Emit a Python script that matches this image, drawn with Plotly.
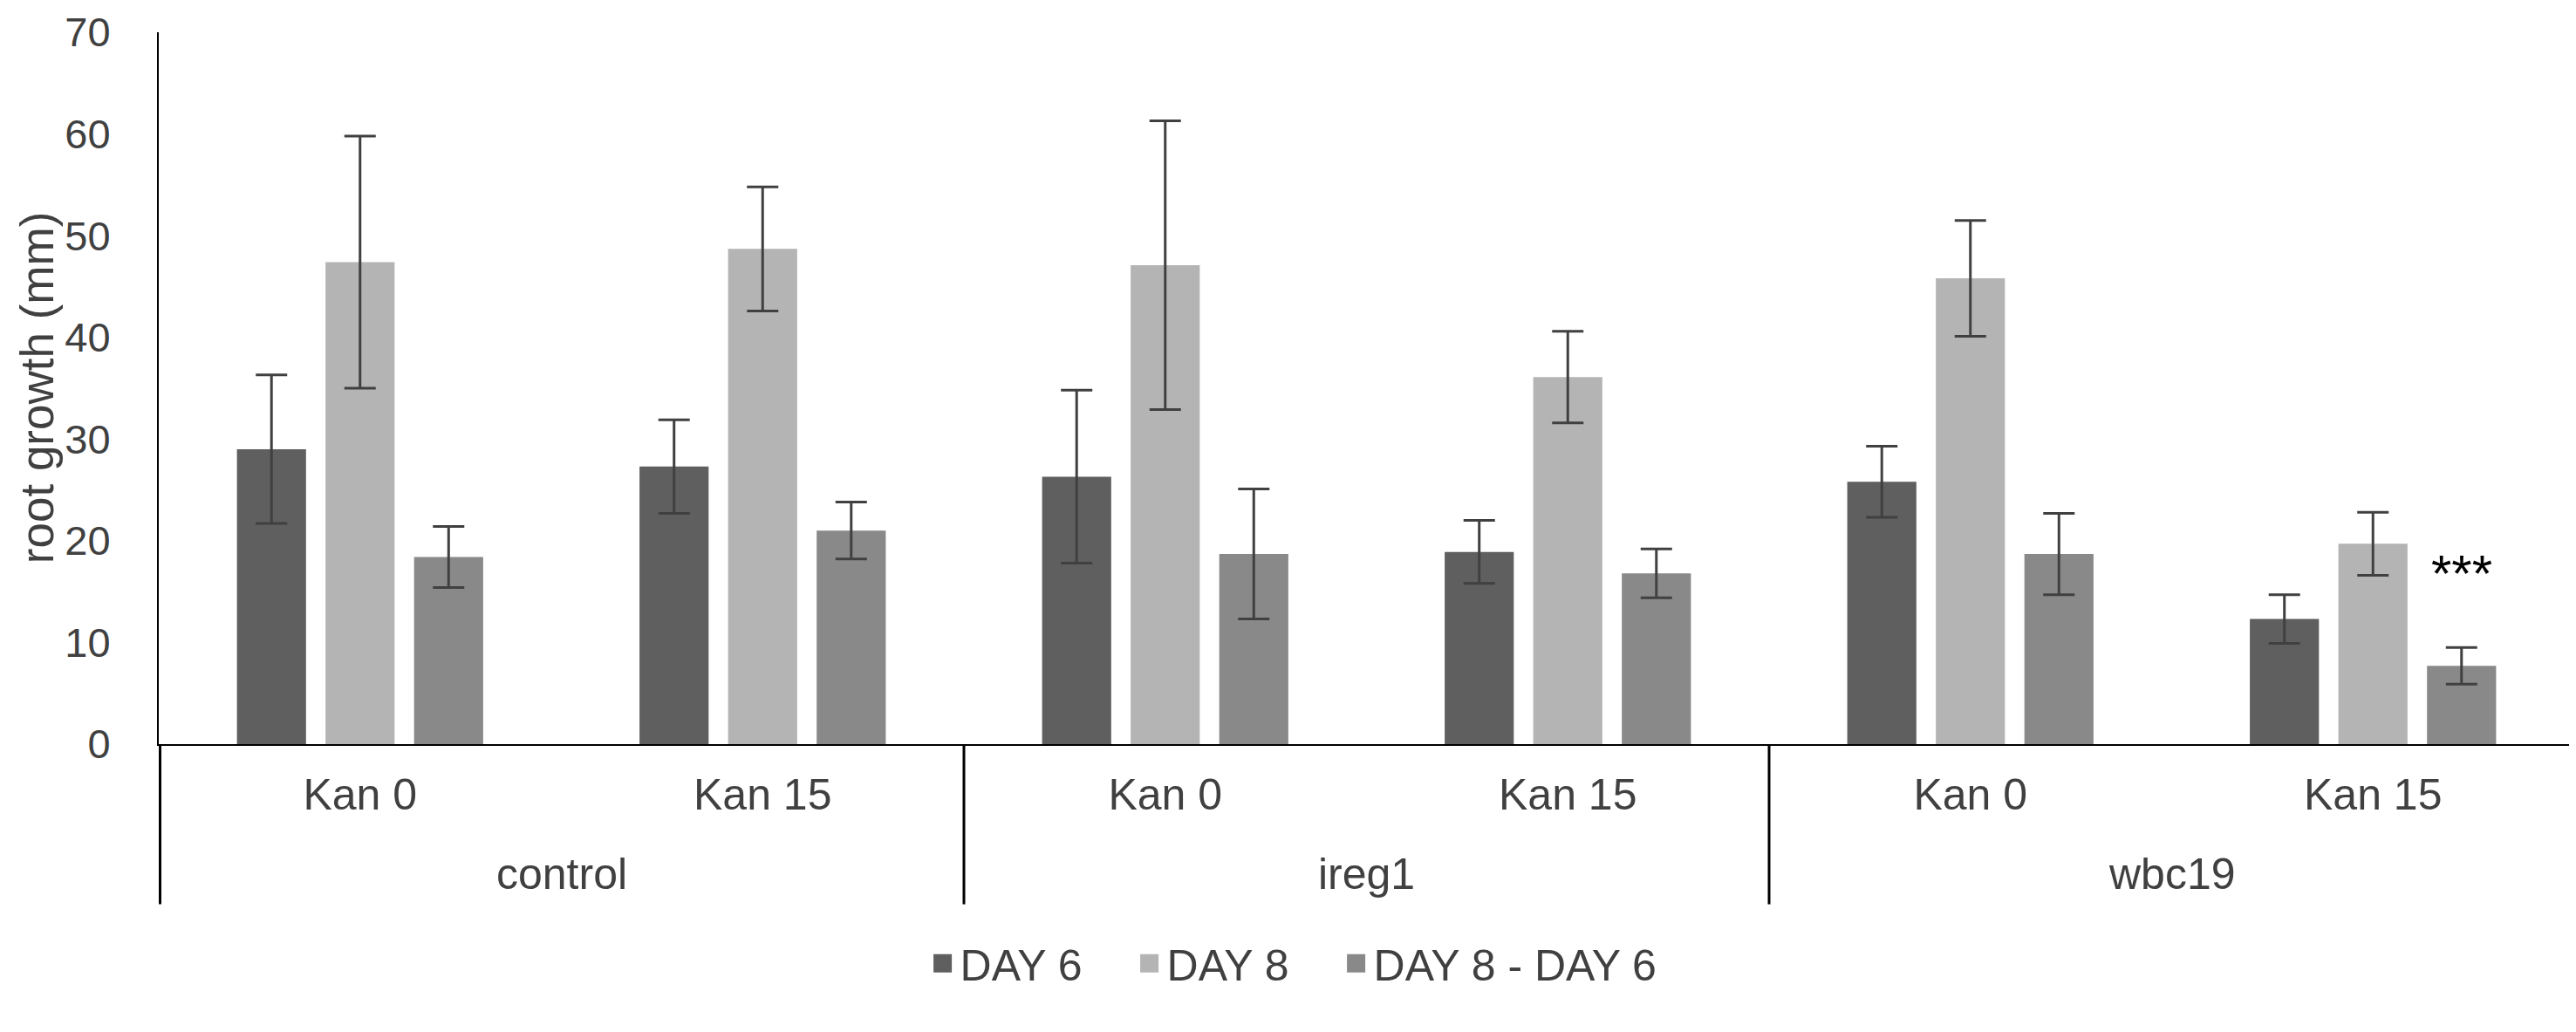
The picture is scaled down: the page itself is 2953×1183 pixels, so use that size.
import plotly.graph_objects as go

# x axis: genotype groups and kanamycin treatment
genotypes = ['control', 'control', 'ireg1', 'ireg1', 'wbc19', 'wbc19']
treatments = ['Kan 0', 'Kan 15', 'Kan 0', 'Kan 15', 'Kan 0', 'Kan 15']
group_names = ['control', 'ireg1', 'wbc19']

day6 = [29.0, 27.3, 26.3, 18.9, 25.8, 12.3]
day6_err = [7.3, 4.6, 8.5, 3.1, 3.5, 2.4]

day8 = [47.4, 48.7, 47.1, 36.1, 45.8, 19.7]
day8_err = [12.4, 6.1, 14.2, 4.5, 5.7, 3.1]

diff = [18.4, 21.0, 18.7, 16.8, 18.7, 7.7]
diff_err = [3.0, 2.8, 6.4, 2.4, 4.0, 1.8]

star_label = '***'
star_y = 16.8

y_title = 'root growth (mm)'

font_main = 'Liberation Sans, Arial, sans-serif'
text_color = '#404040'
err_color = '#404040'

# one unique category per bar cluster, labelled with the treatment only
x_keys = [g + ' | ' + t for g, t in zip(genotypes, treatments)]

series = [
    ('DAY 6', day6, day6_err, '#5f5f5f'),
    ('DAY 8', day8, day8_err, '#b4b4b4'),
    ('DAY 8 - DAY 6', diff, diff_err, '#898989'),
]

fig = go.Figure()

for name, vals, errs, col in series:
    fig.add_trace(
        go.Bar(
            name=name,
            x=x_keys,
            y=vals,
            showlegend=False,
            marker=dict(color=col, line=dict(width=0)),
            error_y=dict(type='data', array=errs, visible=True,
                         color=err_color, thickness=3, width=18)))

# legend entries with bigger square swatches
for k, (name, vals, errs, col) in enumerate(series):
    fig.add_trace(
        go.Scatter(
            name=name,
            x=[x_keys[0]], y=[None],
            mode='markers',
            showlegend=True,
            legendwidth=192 if k < 2 else None,
            marker=dict(symbol='square', size=16, color=col,
                        line=dict(color=col, width=5))))

# group labels under the treatment labels
for i, g in enumerate(group_names):
    fig.add_annotation(
        x=2 * i + 0.5, y=-0.183, xref='x', yref='paper',
        text=g, showarrow=False, yanchor='middle',
        font=dict(family=font_main, size=50, color=text_color))

# divider lines between the groups (outer ones get clipped by half)
n_div = len(group_names) + 1
for i in range(n_div):
    edge = i in (0, n_div - 1)
    fig.add_shape(type='line', xref='x', yref='paper',
                  x0=2 * i - 0.5, x1=2 * i - 0.5, y0=0, y1=-0.225,
                  line=dict(color='black', width=6 if edge else 3))

fig.add_annotation(
    x=5.22, y=star_y, xref='x', yref='y',
    text=star_label, showarrow=False,
    font=dict(family=font_main, size=60, color='black'))

# y axis title, placed a bit below the middle like in the original
fig.add_annotation(
    x=-0.0505, y=0.5, xref='paper', yref='paper',
    text=y_title, textangle=-90, showarrow=False,
    xanchor='center', yanchor='middle',
    font=dict(family=font_main, size=53, color=text_color))

# faint line at the bottom left of the original picture
fig.add_shape(type='line', xref='paper', yref='paper',
              x0=-0.045, x1=0.09, y0=-0.409, y1=-0.409,
              line=dict(color='#d6d6d6', width=4))

fig.update_layout(
    width=2953,
    height=1183,
    plot_bgcolor='white',
    paper_bgcolor='white',
    barmode='group',
    bargap=0.34,
    bargroupgap=0.22,
    margin=dict(l=174, r=10, t=29, b=338),
    font=dict(family=font_main, color=text_color),
    # legend is centred on the whole picture, not on the plot area
    legend=dict(orientation='h', x=0.4697, xanchor='center',
                y=-0.308, yanchor='middle',
                font=dict(size=50, color=text_color),
                itemsizing='trace', traceorder='normal'),
    xaxis=dict(
        type='category',
        range=[-0.5, 5.5],
        tickvals=x_keys, ticktext=treatments,
        automargin=False,
        showline=True, linecolor='black', linewidth=2,
        showgrid=False, ticks='',
        ticklabelstandoff=13,
        tickfont=dict(size=50, color=text_color)),
    yaxis=dict(
        range=[0, 70], dtick=10,
        automargin=False,
        showline=True, linecolor='black', linewidth=2,
        showgrid=False, zeroline=False, ticks='',
        ticklabelstandoff=44,
        ticklabeloverflow='allow',
        tickfont=dict(size=47, color=text_color)))

fig.write_html("out.html")
